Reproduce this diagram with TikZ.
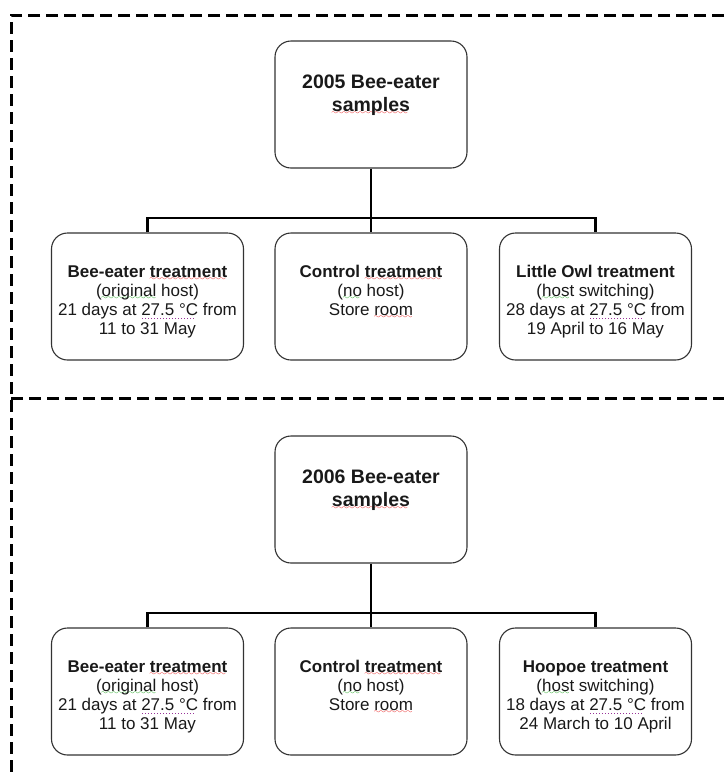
\documentclass[tikz,border=0pt]{standalone}
\usepackage{fontspec}
\setmainfont{Liberation Sans}
\usepackage{tikz}

% spell-check marks as the picture shows them
\font\wavefont=lasy7
\newcommand\markunder[3]{\setbox0\hbox{#3}\leavevmode
  \rlap{\lower3.2pt\hbox to \wd0{\textcolor{#1}{#2\hfill}}}\box0\relax}
\newcommand\redwave[1]{\markunder{red!90!black}{\leaders\hbox{\wavefont\char58}}{#1}}
\newcommand\greenwave[1]{\markunder{green!60!black}{\leaders\hbox{\wavefont\char58}}{#1}}
\newcommand\dotmark[1]{\markunder{violet!80}{\leaders\hbox to 3pt{\hss\rule{1pt}{1pt}\hss}}{#1}}
\newcommand\boxtext[1]{\parbox[c][65pt][t]{188pt}{\centering\strut #1}}

\begin{document}
\begin{tikzpicture}[
    x=1pt, y=-1pt,
    nd/.style={draw=black!80, line width=1.1pt, rounded corners=16pt, minimum width=192pt, minimum height=127pt, inner sep=0pt, text=black!90},
    samplenode/.style={nd, font=\fontsize{19.5}{23}\selectfont\bfseries},
    treatnode/.style={nd, font=\fontsize{17}{19}\selectfont},
    conn/.style={line width=2.6pt, black},
    frame/.style={line width=3pt, black, dash pattern=on 12pt off 6pt},
]
\useasboundingbox (0,0) rectangle (724,780);

% dashed frame
\draw[frame] (724,15) -- (11,15) -- (11,772);
\draw[frame] (11,398) -- (724,398);

% 2005 samples
\node[samplenode] (S05) at (371,104.5) {\boxtext{2005 Bee-eater\\ \redwave{samples}}};
\node[treatnode] (BE05) at (147.5,296.5) {\boxtext{\textbf{Bee-eater \redwave{treatment}}\\ (\greenwave{original} host)\\ 21 days at \dotmark{27.5 °C} from\\ 11 to 31 May}};
\node[treatnode] (CT05) at (371,296.5) {\boxtext{\textbf{Control \redwave{treatment}}\\ (\greenwave{no} host)\\ Store \redwave{room}}};
\node[treatnode] (LO05) at (595.5,296.5) {\boxtext{\textbf{Little Owl treatment}\\ (\greenwave{host} switching)\\ 28 days at \dotmark{27.5 °C} from\\ 19 April to 16 May}};
\coordinate (J05) at (371,218);

% 2006 samples
\node[samplenode] (S06) at (371,499.5) {\boxtext{2006 Bee-eater\\ \redwave{samples}}};
\node[treatnode] (BE06) at (147.5,691.5) {\boxtext{\textbf{Bee-eater \redwave{treatment}}\\ (\greenwave{original} host)\\ 21 days at \dotmark{27.5 °C} from\\ 11 to 31 May}};
\node[treatnode] (CT06) at (371,691.5) {\boxtext{\textbf{Control \redwave{treatment}}\\ (\greenwave{no} host)\\ Store \redwave{room}}};
\node[treatnode] (HO06) at (595.5,691.5) {\boxtext{\textbf{Hoopoe treatment}\\ (\greenwave{host} switching)\\ 18 days at \dotmark{27.5 °C} from\\ 24 March to 10 April}};
\coordinate (J06) at (371,613);

% Connectors
\draw[conn] (S05.south) -- (CT05.north);
\draw[conn] (BE05.north) |- (J05) -| (LO05.north);
\draw[conn] (S06.south) -- (CT06.north);
\draw[conn] (BE06.north) |- (J06) -| (HO06.north);

\end{tikzpicture}
\end{document}
